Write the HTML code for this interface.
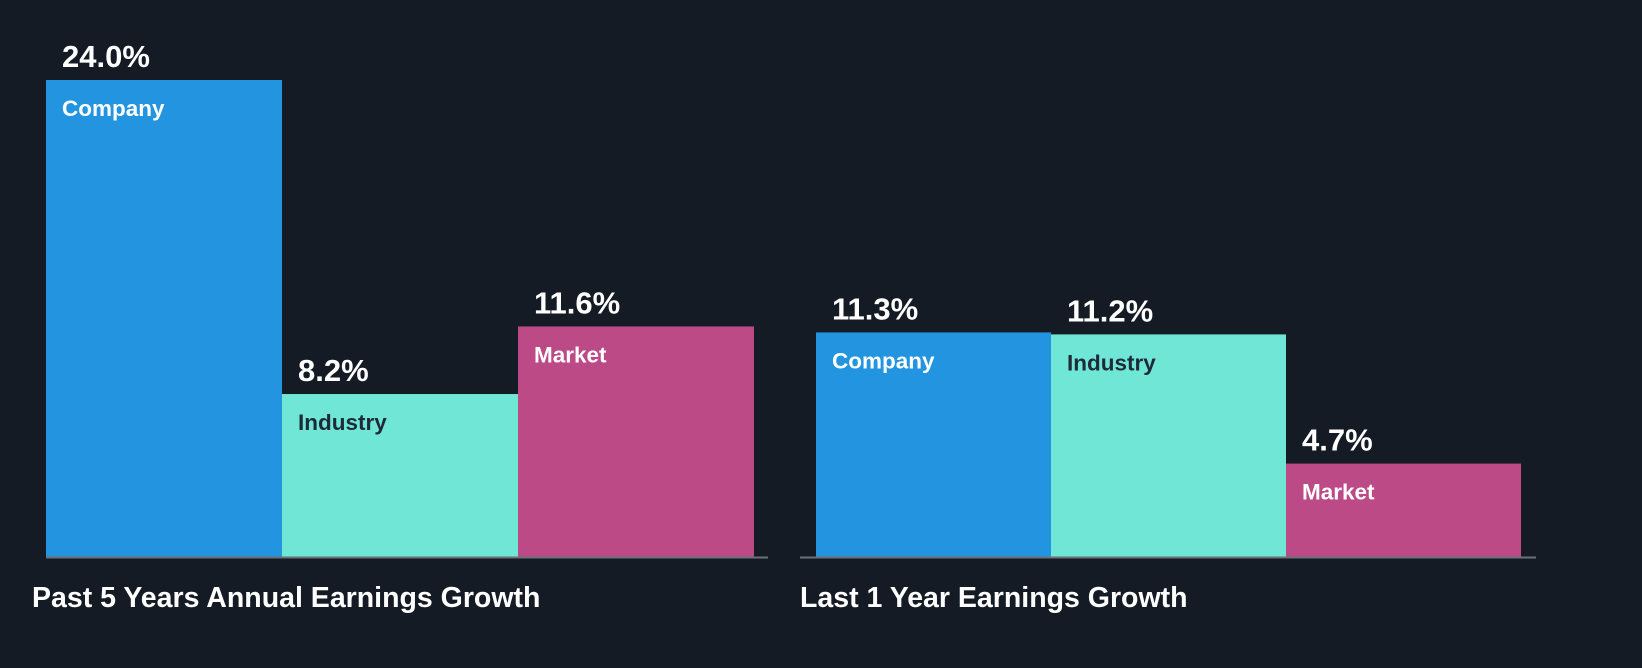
<!DOCTYPE html>
<html><head><meta charset="utf-8"><style>
html,body{margin:0;padding:0;background:#151b24;}
svg{display:block;font-family:"Liberation Sans",sans-serif;}
</style></head><body>
<svg id="chart" width="1642" height="668" viewBox="0 0 1642 668">
<rect width="1642" height="668" fill="#151b24"/>
</svg>
<script>
const categories = ["Company", "Industry", "Market"];
const past5Values = [24.0, 8.2, 11.6];
const last1Values = [11.3, 11.2, 4.7];
const valueLabels5 = ["24.0%", "8.2%", "11.6%"];
const valueLabels1 = ["11.3%", "11.2%", "4.7%"];
const panelTitles = ["Past 5 Years Annual Earnings Growth", "Last 1 Year Earnings Growth"];

const NS = "http://www.w3.org/2000/svg";
const svg = document.getElementById("chart");
const colors = {Company:"#2394df", Industry:"#6fe6d6", Market:"#bb4a86"};
const textColors = {Company:"#ffffff", Industry:"#1e2a38", Market:"#ffffff"};
const baseY = 557;
const pxPerPct = 477 / 24.0;
function yScale(v){ return baseY - v * pxPerPct; }

function mk(tag, attrs){ const e = document.createElementNS(NS, tag); for (const k in attrs) e.setAttribute(k, attrs[k]); svg.appendChild(e); return e; }

const panels = [
  {x0:46, bw:236, axisX1:46, axisX2:768, titleX:32, vals:past5Values, labels:valueLabels5, title:panelTitles[0], key:"past-5y"},
  {x0:816, bw:235, axisX1:800, axisX2:1536, titleX:800, vals:last1Values, labels:valueLabels1, title:panelTitles[1], key:"last-1y"}
];
panels.forEach(p => {
  p.vals.forEach((v, i) => {
    const x = p.x0 + i * p.bw;
    const top = yScale(v);
    const cat = categories[i];
    const r = mk("rect", {x:x, y:top, width:p.bw, height:baseY - top, fill:colors[cat]});
    
    
    const vt = mk("text", {x:x + 16, y:top - 13, fill:"#ffffff", "font-size":"31", "font-weight":"bold"});
    vt.textContent = p.labels[i];
    
    
    const ct = mk("text", {x:x + 16, y:top + 36, fill:textColors[cat], "font-size":"22.5", "font-weight":"bold"});
    ct.textContent = cat;
    
    
  });
  const ax = mk("line", {x1:p.axisX1, x2:p.axisX2, y1:baseY + 0.5, y2:baseY + 0.5, stroke:"#6b7079", "stroke-width":"2"});
  
  
  const t = mk("text", {x:p.titleX, y:607, fill:"#ffffff", "font-size":"28.5", "font-weight":"bold"});
  t.textContent = p.title;
  
  
});
</script>
</body></html>
